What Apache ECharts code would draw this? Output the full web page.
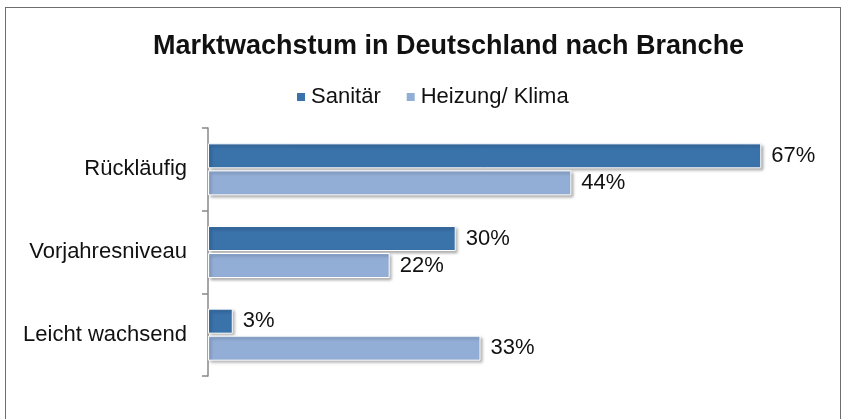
<!DOCTYPE html>
<html>
<head>
<meta charset="utf-8">
<script src="https://cdn.jsdelivr.net/npm/echarts@6/dist/echarts.min.js"></script>
<style>
  html, body { margin: 0; padding: 0; background: #fff; }
  #wrap { position: relative; width: 847px; height: 419px; overflow: hidden; }
  #frame { position: absolute; left: 5px; top: 7px; width: 836px; height: 430px; border: 1px solid #6e6e6e; box-sizing: border-box; }
  #chart { position: absolute; left: 0; top: 0; width: 847px; height: 419px; }
</style>
</head>
<body>
<div id="wrap">
  <div id="frame"></div>
  <div id="chart"></div>
</div>
<script>
  const categories = ['Rückläufig', 'Vorjahresniveau', 'Leicht wachsend'];
  const sanitaer = [67, 30, 3];
  const heizung = [44, 22, 33];

  const chart = echarts.init(document.getElementById('chart'));
  const font = '"Liberation Sans", Arial, sans-serif';

  const barStyle = color => ({
    color: color,
    borderColor: '#fff',
    borderWidth: 1,
    shadowColor: 'rgba(0,0,0,0.35)',
    shadowBlur: 3,
    shadowOffsetX: 2,
    shadowOffsetY: 2
  });
  const labelStyle = {
    show: true, position: 'right', distance: 10,
    formatter: '{c}%', color: '#111', fontSize: 22, fontFamily: font
  };

  chart.setOption({
    animation: false,
    title: {
      text: 'Marktwachstum in Deutschland nach Branche',
      left: 148, top: 28,
      textStyle: { fontSize: 27, fontWeight: 'bold', color: '#111', fontFamily: font }
    },
    legend: {
      left: 290, top: 81,
      itemWidth: 10, itemHeight: 10, itemGap: 24,
      icon: 'rect',
      textStyle: { fontSize: 22, color: '#111', fontFamily: font },
      data: ['Sanitär', 'Heizung/ Klima']
    },
    grid: { left: 208, top: 128, bottom: 43, right: 61 },
    xAxis: {
      type: 'value', min: 0, max: 70, show: false
    },
    yAxis: {
      type: 'category', inverse: true, data: categories,
      axisLine: { show: true, lineStyle: { color: '#888', width: 1.5 } },
      axisTick: { show: true, inside: false, alignWithLabel: false, length: 6, lineStyle: { color: '#888', width: 1.5 } },
      axisLabel: { margin: 21, fontSize: 22, color: '#111', fontFamily: font }
    },
    series: [
      { name: 'Sanitär', type: 'bar', data: sanitaer, barWidth: 25, barGap: '8%',
        itemStyle: barStyle('#3a72aa'), label: labelStyle },
      { name: 'Heizung/ Klima', type: 'bar', data: heizung, barWidth: 25,
        itemStyle: barStyle('#93aed6'), label: labelStyle }
    ]
  });
</script>
</body>
</html>
